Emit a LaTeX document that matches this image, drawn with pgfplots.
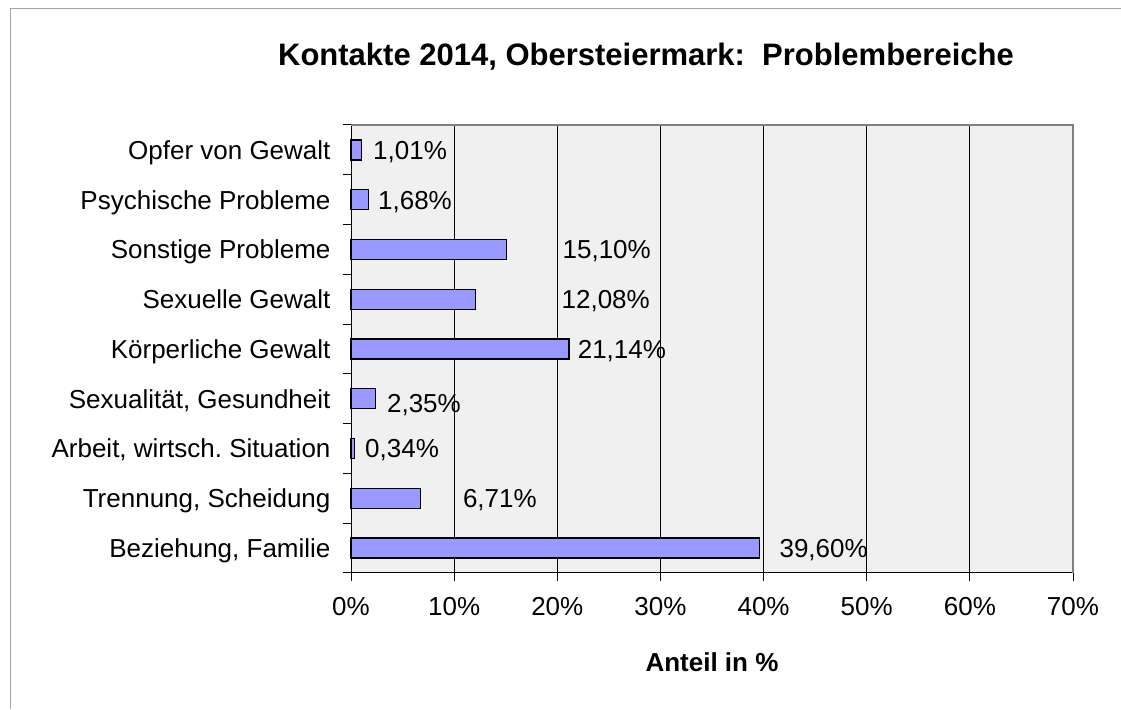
\documentclass[border=0pt]{standalone}
\usepackage{fontspec}
\setmainfont{Liberation Sans}
\usepackage{pgfplots}
\pgfplotsset{compat=1.18}
\definecolor{plotbg}{HTML}{F0F0F0}
\definecolor{barfill}{HTML}{9999FF}
\frenchspacing
\begin{document}
\begin{tikzpicture}[x=1pt,y=1pt]
\path[use as bounding box] (0,0) rectangle (1121,709);
\draw[gray!70, line width=1pt] (1121,700) -- (10,700) -- (10,0);
\node[font=\fontsize{31}{36}\selectfont\bfseries] at (646,652) {Kontakte 2014, Obersteiermark:\ \ Problembereiche};
\begin{axis}[
  at={(351pt,136pt)}, anchor=south west,
  width=722pt, height=448pt, scale only axis,
  xmin=0, xmax=70, ymin=-0.5, ymax=8.5,
  axis lines*=left,
  axis line style={black, line width=1pt},
  axis background/.style={fill=plotbg},
  xtick={0,10,...,70},
  xticklabel={\pgfmathprintnumber{\tick}\%},
  /pgf/number format/assume math mode=true,
  xmajorgrids, major grid style={black, line width=0.8pt},
  ytick={0,...,8},
  yticklabels={{Beziehung, Familie},{Trennung, Scheidung},{Arbeit, wirtsch.\ Situation},{Sexualität, Gesundheit},{Körperliche Gewalt},{Sexuelle Gewalt},{Sonstige Probleme},{Psychische Probleme},{Opfer von Gewalt}},
  minor ytick={-0.5,0.5,...,8.5},
  tick align=outside,
  major tick length=8pt, minor tick length=8pt,
  ytick style={draw=none},
  minor y tick style={draw=black, line width=1pt},
  x tick style={black, line width=1pt},
  ticklabel style={font=\fontsize{26}{31}\selectfont},
  xticklabel style={anchor=center, yshift=-26pt},
  yticklabel style={anchor=east, xshift=-9pt, text height=18.7pt, text depth=0pt},
  xlabel={Anteil in \%},
  xlabel style={at={(axis description cs:0.5,-0.2)}, anchor=center, font=\fontsize{26}{31}\selectfont\bfseries},
  clip=false,
]
\addplot[xbar, bar width=20pt, fill=barfill, draw=black, line width=1.3pt]
  coordinates {(39.60,0) (6.71,1) (0.34,2) (2.35,3) (21.14,4) (12.08,5) (15.10,6) (1.68,7) (1.01,8)};
\addplot[draw=none, mark=none, nodes near coords, point meta=explicit symbolic,
  every node near coord/.style={anchor=west, inner sep=0pt, text height=18.7pt, text depth=0pt, font=\fontsize{26}{31}\selectfont}]
  coordinates {(41.53,0) [39,60\%] (10.84,1) [6,71\%] (1.36,2) [0,34\%] (3.48,2.92) [2,35\%] (21.97,4) [21,14\%] (20.4,5) [12,08\%] (20.5,6) [15,10\%] (2.61,7) [1,68\%] (2.13,8) [1,01\%]};
\draw[gray, line width=1.2pt] (rel axis cs:0,1) -- (rel axis cs:1,1) -- (rel axis cs:1,0);
\end{axis}
\end{tikzpicture}
\end{document}
